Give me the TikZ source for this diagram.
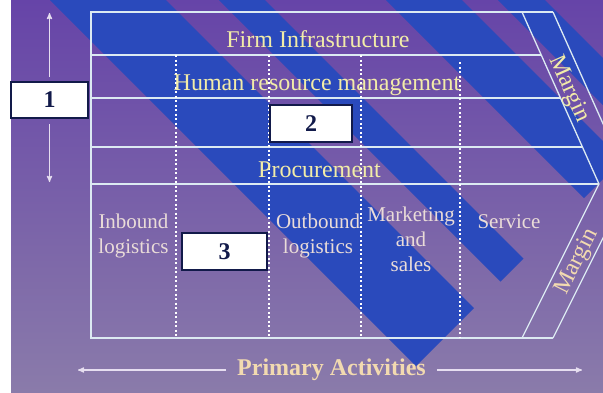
\documentclass[tikz,border=0pt]{standalone}
\usepackage{fontspec}
\setmainfont{Liberation Serif}
\usetikzlibrary{arrows}

\definecolor{BgTop}{HTML}{6644A8}
\definecolor{BgBottom}{HTML}{8A7BAA}
\definecolor{StripeBlue}{HTML}{2A4ABC}
\definecolor{FrameLine}{HTML}{DCEAF2}
\definecolor{UpperText}{HTML}{F2ECA8}
\definecolor{LowerText}{HTML}{EADCD8}
\definecolor{PrimText}{HTML}{F2DAB0}
\definecolor{BoxLine}{HTML}{121A4A}
\definecolor{ArrowLine}{HTML}{E6DEF0}

\begin{document}
\begin{tikzpicture}[x=1pt, y=-1pt]
    \tikzset{FrameStyle/.style={draw=FrameLine, line width=1.3pt}}
    \tikzset{DotStyle/.style={draw=white, line width=2pt, dash pattern=on 2pt off 2.5pt}}
    \tikzset{BoxStyle/.style={draw=BoxLine, line width=2pt, fill=white, text=BoxLine, inner sep=0pt, font=\fontsize{24}{28}\selectfont\bfseries}}
    \tikzset{RowStyle/.style={text=UpperText, anchor=base, inner sep=0pt, font=\fontsize{24}{28}\selectfont}}
    \tikzset{ColStyle/.style={text=LowerText, anchor=base, align=center, inner sep=0pt, font=\fontsize{21}{25}\selectfont}}
    \tikzset{ArrowStyle/.style={->, >=stealth', draw=ArrowLine, line width=1.2pt}}

    \useasboundingbox (0,0) rectangle (603,392);
    \fill[white] (0,0) rectangle (603,392);
    \shade[top color=BgTop, bottom color=BgBottom] (11,0) rectangle (603,392);

    \begin{scope}
    \clip (11,0) rectangle (603,392);
    \fill[StripeBlue] (50,0) -- (166,0) -- (474,308) -- (416,366) -- cycle;
    \fill[StripeBlue] (219,0) -- (265,0) -- (523.5,258.5) -- (500.5,281.5) -- cycle;
    \fill[StripeBlue] (386,0) -- (462,0) -- (622,160) -- (584,198) -- cycle;
    \fill[StripeBlue] (498,0) -- (545,0) -- (663.5,118.5) -- (640,142) -- cycle;

    \draw[FrameStyle] (553,12) -- (91,12) -- (91,338) -- (553,338);
    \draw[FrameStyle] (91,55) -- (541.3,55);
    \draw[FrameStyle] (91,98) -- (560.5,98);
    \draw[FrameStyle] (91,147) -- (582.4,147);
    \draw[FrameStyle] (91,184) -- (599,184);
    \draw[FrameStyle] (522,12) -- (599,184) -- (522,338);
    \draw[FrameStyle] (553,12) -- (630,184) -- (553,338);
    \end{scope}

    \draw[DotStyle] (176,55) -- (176,338);
    \draw[DotStyle] (269,55) -- (269,338);
    \draw[DotStyle] (361,55) -- (361,338);
    \draw[DotStyle] (460,62) -- (460,338);

    \node[RowStyle] (firm) at (318,47) {Firm Infrastructure};
    \node[RowStyle] (hrm) at (317,90) {Human resource management};
    \node[RowStyle] (proc) at (319.5,177) {Procurement};

    \node[ColStyle] (inbound) at (133.5,253) {Inbound\\logistics};
    \node[ColStyle] (outbound) at (318,253) {Outbound\\logistics};
    \node[ColStyle] (marketing) at (411,271) {Marketing\\and\\sales};
    \node[ColStyle] (service) at (509,228) {Service};

    \node[text=UpperText, rotate=-65.9, font=\fontsize{24}{28}\selectfont] (margintop) at (569,89) {Margin};
    \node[text=PrimText, rotate=63.4, font=\fontsize{24}{28}\selectfont] (marginbot) at (577,262) {Margin};

    \node[BoxStyle, minimum width=77pt, minimum height=36pt] (one) at (49.5,100) {1};
    \node[BoxStyle, minimum width=82pt, minimum height=37pt] (two) at (311,123.5) {2};
    \node[BoxStyle, minimum width=85pt, minimum height=37pt] (three) at (224.5,251.5) {3};

    \coordinate (uptip) at (49.5,13);
    \coordinate (downtip) at (49.5,182);
    \draw[ArrowStyle, shorten <=4pt] (one) -- (uptip);
    \draw[ArrowStyle, shorten <=5pt] (one) -- (downtip);

    \node[text=PrimText, inner xsep=11pt, font=\fontsize{24}{28}\selectfont\bfseries] (primary) at (331.5,370) {Primary Activities};
    \coordinate (leftend) at (78,370);
    \coordinate (rightend) at (582,370);
    \draw[ArrowStyle] (primary) -- (leftend);
    \draw[ArrowStyle] (primary) -- (rightend);
\end{tikzpicture}
\end{document}
